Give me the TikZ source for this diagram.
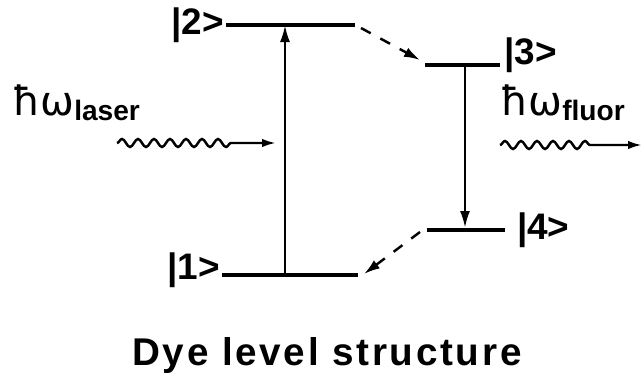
\documentclass[tikz,border=0pt]{standalone}
\usepackage{fontspec}
\setsansfont{Liberation Sans}
\newfontfamily\symfont{DejaVu Sans}
\usetikzlibrary{arrows.meta, positioning, decorations.pathmorphing}
\tikzset{
  >=Latex,
  level/.style={line width=2.2pt},
  trans/.style={-{Latex[length=3.4mm,width=2mm]}, line width=1.4pt},
  relax/.style={-{Latex[length=3.2mm,width=2mm]}, line width=1.4pt, dash pattern=on 2.2mm off 2.2mm},
  photon/.style={-{Latex[length=2.8mm,width=1.7mm]}, line width=1.4pt, decorate,
    decoration={snake, amplitude=0.8mm, segment length=3.2mm, post length=9mm}},
  ket/.style={font=\sffamily\bfseries\fontsize{21}{24}\selectfont, inner sep=1pt},
  energy/.style={font=\symfont\fontsize{23}{26}\selectfont, inner sep=0pt},
  caption/.style={font=\sffamily\bfseries\fontsize{22}{26}\selectfont\addfontfeature{LetterSpace=7}}
}
\newcommand{\sub}[1]{\raisebox{-1.1mm}{\sffamily\bfseries\fontsize{16}{18}\selectfont #1}}

\begin{document}
\begin{tikzpicture}
  \useasboundingbox (0,0) rectangle (12.84,7.64);
  % levels
  \coordinate (l2a) at (4.52,7.14); \coordinate (l2b) at (7.10,7.14);
  \coordinate (l1a) at (4.44,2.14); \coordinate (l1b) at (7.16,2.14);
  \coordinate (l3a) at (8.50,6.34); \coordinate (l3b) at (10.00,6.34);
  \coordinate (l4a) at (8.54,3.04); \coordinate (l4b) at (10.10,3.04);
  \draw[level] (l2a) -- (l2b);
  \draw[level] (l1a) -- (l1b);
  \draw[level] (l3a) -- (l3b);
  \draw[level] (l4a) -- (l4b);
  \node[ket,anchor=east] (k2) at (l2a) {|2>};
  \node[ket,anchor=east] (k1) at ([yshift=1mm]l1a) {|1>};
  \node[ket,anchor=west] (k3) at ([xshift=0.5mm,yshift=2mm]l3b) {|3>};
  \node[ket,anchor=west] (k4) at ([xshift=2mm]l4b) {|4>};
  % pump and emission
  \coordinate (up1) at (5.70,2.14);  \coordinate (up2) at (5.70,7.14);
  \coordinate (dn3) at (9.30,6.34);  \coordinate (dn4) at (9.30,3.08);
  \draw[trans] (up1) -- (up2);
  \draw[trans] (dn3) -- (dn4);
  % nonradiative decay
  \coordinate (r2) at (7.22,7.08);  \coordinate (r3) at (8.40,6.44);
  \coordinate (r4) at (8.40,3.00);  \coordinate (r1) at (7.28,2.16);
  \draw[relax] (r2) -- (r3);
  \draw[relax] (r4) -- (r1);
  % photons
  \coordinate (w1) at (2.34,4.78); \coordinate (w2) at (5.52,4.78);
  \coordinate (f1) at (10.00,4.74); \coordinate (f2) at (12.84,4.74);
  \draw[photon] (w1) -- (w2);
  \draw[photon] (f1) -- (f2);
  \node[energy,anchor=base west] (laser) at (0.24,5.34) {ħω\sub{laser}};
  \node[energy,anchor=base west] (fluor) at (10.00,5.34) {ħω\sub{fluor}};
  \node[caption,anchor=base] (cap) at (6.54,0.34) {Dye level structure};
\end{tikzpicture}
\end{document}
